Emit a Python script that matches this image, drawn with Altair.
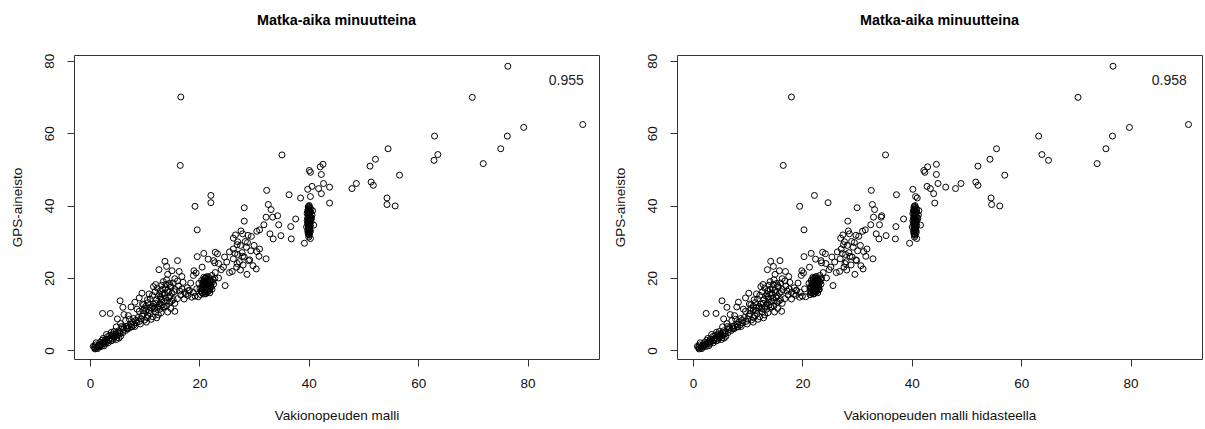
import altair as alt
import pandas as pd

# Each trip: (constant-speed model, model with deceleration, GPS data), minutes.

# long trips, x above 45
pitkat = [
    (47.9, 48.0, 44.7), (48.7, 49.0, 46.1), (51.2, 52.1, 50.9), (52.2, 54.3, 52.8),
    (54.5, 55.5, 55.7), (56.6, 57.0, 48.4), (51.4, 51.7, 46.5), (51.8, 52.1, 45.6),
    (54.3, 54.5, 42.1), (54.3, 54.6, 40.3), (55.8, 56.1, 39.9), (63.0, 63.2, 59.2),
    (62.9, 65.0, 52.5), (63.6, 63.8, 54.1), (69.9, 70.4, 69.9), (76.4, 76.8, 78.5),
    (71.9, 73.9, 51.6), (75.1, 75.5, 55.7), (76.3, 76.7, 59.2), (79.3, 79.8, 61.6),
    (90.1, 90.6, 62.4),
]

# scattered trips between 15 and 45 minutes
keski = [
    (16.6, 18.0, 70.0), (16.5, 16.5, 51.1), (35.1, 35.2, 54.0), (19.2, 19.5, 39.8),
    (22.1, 22.2, 42.8), (22.1, 24.7, 40.8), (19.6, 20.3, 33.3), (28.2, 30.0, 39.4),
    (28.2, 28.3, 35.7), (32.3, 32.6, 44.2), (32.6, 32.8, 40.3), (33.1, 33.2, 38.9),
    (34.3, 34.5, 37.2), (32.2, 33.0, 36.8), (33.4, 34.4, 36.8), (34.5, 34.1, 34.7),
    (31.8, 32.5, 34.7), (31.0, 31.5, 33.3), (30.5, 31.0, 32.9), (32.9, 33.5, 32.2),
    (33.5, 34.0, 30.8), (34.9, 35.3, 31.7), (36.4, 37.2, 43.0), (38.5, 41.0, 42.1),
    (37.6, 38.5, 36.3), (36.7, 37.1, 34.2), (36.8, 37.0, 30.8), (39.2, 39.6, 29.6),
    (40.1, 42.2, 49.7), (40.3, 42.4, 49.2), (42.1, 42.9, 50.7), (42.6, 44.5, 51.4),
    (42.3, 44.5, 48.6), (42.7, 44.8, 46.1), (41.8, 43.4, 44.7), (40.6, 42.8, 45.3),
    (39.8, 40.2, 44.5), (40.3, 40.7, 42.5), (43.8, 44.2, 40.7), (43.8, 46.2, 45.1),
    (42.3, 44.0, 43.3),
]

# the 40-minute column
ryhma_40 = [
    (40.1, 40.6, 40.0), (39.9, 40.4, 39.6), (40.2, 40.8, 39.2), (40.0, 40.5, 38.8),
    (39.8, 40.3, 38.5), (40.3, 40.9, 38.2), (40.1, 40.6, 37.9), (39.9, 40.4, 37.6),
    (40.2, 40.7, 37.3), (40.0, 40.5, 37.0), (40.4, 41.0, 36.8), (39.8, 40.3, 36.5),
    (40.1, 40.6, 36.2), (40.3, 40.8, 36.0), (39.9, 40.4, 35.7), (40.0, 40.5, 35.5),
    (40.2, 40.7, 35.2), (39.8, 40.3, 35.0), (40.1, 40.6, 34.8), (40.3, 40.9, 34.5),
    (39.9, 40.4, 34.2), (40.0, 40.5, 34.0), (40.2, 40.7, 33.7), (40.1, 40.6, 33.4),
    (39.8, 40.3, 33.1), (40.0, 40.5, 32.8), (40.2, 40.8, 32.5), (39.9, 40.4, 32.2),
    (40.1, 40.6, 31.8), (40.0, 40.5, 31.3), (40.3, 40.9, 30.9), (40.5, 41.1, 36.4),
    (39.7, 40.2, 35.8), (40.6, 41.2, 37.4), (40.9, 41.6, 34.6), (40.7, 41.3, 38.6),
    (40.0, 40.5, 39.8), (40.1, 40.6, 39.4), (39.9, 40.4, 39.0), (40.0, 40.5, 38.6),
    (40.2, 40.7, 38.0), (40.0, 40.5, 37.7), (40.1, 40.6, 37.1), (39.9, 40.4, 36.6),
    (40.2, 40.7, 36.1), (40.0, 40.5, 35.9), (40.1, 40.6, 35.3), (39.9, 40.4, 34.9),
    (40.2, 40.7, 34.4), (40.0, 40.5, 33.9), (40.1, 40.6, 33.5), (40.3, 40.8, 33.0),
    (39.9, 40.4, 32.6), (40.0, 40.5, 32.0), (40.4, 40.9, 35.6), (40.4, 40.9, 38.9),
    (39.7, 40.2, 37.8), (39.6, 40.1, 34.1),
]

# band between 21 and 35 minutes
valialue = [
    (26.2, 27.0, 31.0), (27.9, 28.6, 32.2), (28.4, 29.0, 30.1), (27.5, 28.2, 29.0),
    (26.2, 27.1, 28.0), (28.6, 29.3, 28.5), (29.4, 30.1, 27.5), (26.2, 26.9, 25.3),
    (25.0, 25.9, 24.4), (26.8, 27.6, 23.0), (27.5, 28.1, 22.2), (28.7, 29.6, 21.0),
    (29.8, 30.7, 23.4), (30.5, 31.2, 27.3), (32.2, 32.9, 25.3), (24.4, 25.2, 23.0),
    (24.7, 25.6, 17.9), (27.0, 27.9, 26.5), (27.8, 28.5, 27.0), (28.2, 29.1, 25.8),
    (26.5, 27.3, 26.8), (27.3, 28.0, 24.5), (28.0, 28.9, 23.6), (29.2, 29.8, 25.0),
    (27.0, 27.7, 30.0), (25.5, 26.4, 27.2), (27.9, 28.7, 26.0), (26.9, 27.8, 24.0),
    (29.0, 29.9, 24.8), (30.0, 30.6, 29.0), (31.0, 31.8, 28.0), (29.5, 30.3, 31.5),
    (23.3, 24.2, 26.7), (22.9, 23.7, 27.1), (22.6, 23.4, 24.8), (23.5, 24.3, 24.0),
    (24.0, 24.9, 22.3), (25.5, 26.2, 21.5), (24.6, 25.4, 25.8), (28.8, 29.5, 29.8),
    (28.9, 29.8, 31.8), (30.4, 31.1, 22.5), (26.0, 26.8, 21.8), (30.9, 31.6, 26.0),
    (26.9, 27.5, 29.2), (27.6, 28.4, 33.0), (26.6, 27.4, 31.9),
]

# the 21-minute cluster and its surroundings
ryhma_21 = [
    (21.6, 22.6, 20.4), (21.2, 22.3, 20.0), (21.9, 22.8, 19.8), (20.9, 22.0, 19.5),
    (21.5, 22.5, 19.2), (22.2, 23.1, 19.0), (21.0, 22.1, 18.8), (21.7, 22.7, 18.6),
    (20.6, 21.8, 18.4), (21.3, 22.4, 18.2), (22.0, 22.9, 18.0), (20.8, 22.0, 17.8),
    (21.4, 22.4, 17.6), (20.4, 21.6, 17.4), (21.1, 22.2, 17.2), (21.8, 22.7, 17.0),
    (20.7, 21.9, 16.8), (21.3, 22.3, 16.6), (20.3, 21.5, 16.4), (21.0, 22.1, 16.2),
    (20.5, 21.7, 16.0), (21.2, 22.2, 15.8), (20.8, 21.9, 15.6), (22.5, 23.3, 19.6),
    (22.4, 23.2, 18.9), (21.6, 22.6, 17.9), (20.1, 21.4, 17.1), (21.7, 22.6, 16.5),
    (22.3, 23.2, 20.7), (20.4, 21.6, 19.3), (22.6, 23.4, 18.3), (22.1, 23.0, 17.5),
    (20.2, 21.4, 15.4), (20.8, 21.9, 20.2), (22.3, 23.1, 16.9), (19.9, 21.2, 18.5),
    (22.8, 23.5, 19.9), (21.9, 22.8, 15.9),
    (21.0, 22.0, 19.9), (21.4, 22.4, 19.6), (21.8, 22.7, 19.4), (20.7, 21.8, 19.0),
    (21.2, 22.2, 18.6), (21.9, 22.8, 18.3), (20.9, 21.9, 18.1), (21.5, 22.5, 17.9),
    (21.1, 22.1, 17.5), (20.6, 21.7, 17.0), (21.4, 22.3, 16.9), (21.9, 23.0, 16.7),
    (20.9, 22.0, 16.3), (21.5, 22.5, 16.1), (21.1, 22.1, 15.6), (20.5, 21.6, 15.9),
    (22.0, 23.0, 19.3), (21.3, 22.4, 20.3), (20.6, 21.5, 17.7), (22.1, 22.9, 17.7),
    (19.6, 20.3, 25.9), (18.9, 19.8, 20.7), (19.4, 20.2, 21.4), (18.6, 19.5, 14.7),
    (17.5, 18.4, 15.5), (18.0, 18.9, 16.5), (19.5, 20.4, 17.0), (22.9, 23.8, 21.5),
    (23.5, 24.4, 20.0), (22.8, 23.5, 24.2), (21.6, 22.4, 25.2), (19.0, 19.9, 22.0),
    (20.5, 21.3, 23.0), (19.8, 20.6, 14.8), (18.9, 19.6, 16.0), (17.9, 18.8, 15.2),
    (19.2, 20.0, 15.0), (20.8, 21.6, 26.8), (17.2, 18.0, 14.2), (18.4, 19.2, 18.6),
]

# trips of 10 to 18 minutes
ryhma_14 = [
    (12.6, 13.6, 22.3), (13.7, 14.2, 24.6), (14.0, 14.7, 23.2), (16.0, 15.9, 24.8),
    (16.3, 16.9, 21.8), (16.8, 17.5, 20.4), (15.0, 15.8, 22.0), (14.2, 15.0, 21.0),
    (14.0, 14.8, 19.5), (13.4, 14.1, 19.0), (14.5, 15.3, 18.5), (13.1, 13.9, 18.0),
    (14.8, 15.6, 17.5), (13.7, 14.5, 17.0), (12.9, 13.7, 16.5), (14.3, 15.1, 16.0),
    (13.2, 14.0, 15.5), (12.5, 13.3, 15.0), (13.8, 14.6, 14.5), (12.2, 13.0, 14.0),
    (13.5, 14.3, 13.5), (12.8, 13.6, 13.0), (13.1, 13.9, 12.5), (12.4, 13.2, 12.0),
    (11.8, 12.6, 11.5), (12.9, 13.7, 14.8), (14.1, 14.9, 13.8), (11.6, 12.4, 12.8),
    (15.0, 15.8, 15.8), (15.6, 16.4, 16.8), (16.2, 17.0, 17.8), (15.2, 16.0, 18.6),
    (16.0, 16.8, 19.2), (12.3, 13.1, 17.2), (11.9, 12.7, 16.2), (11.4, 12.2, 15.2),
    (11.0, 11.8, 14.2), (10.6, 11.4, 13.2), (10.2, 11.0, 12.2), (12.0, 12.8, 18.2),
    (15.5, 16.3, 19.8), (16.4, 17.2, 16.4), (14.6, 15.4, 15.0), (15.2, 16.0, 14.0),
    (14.6, 15.4, 13.3), (14.0, 14.8, 12.3), (11.6, 12.4, 17.6), (17.0, 17.7, 18.8),
    (17.3, 18.0, 16.0), (16.8, 17.6, 17.0), (17.8, 18.5, 17.3), (18.2, 18.9, 16.6),
    (16.6, 17.4, 15.3), (16.0, 16.8, 14.3), (15.5, 16.3, 13.0), (9.8, 10.6, 12.6),
    (10.2, 11.0, 11.0), (10.8, 11.6, 15.6),
    (13.0, 13.8, 14.2), (13.6, 14.4, 15.8), (14.2, 15.0, 16.6), (12.7, 13.5, 15.6),
    (13.3, 14.1, 16.9), (14.7, 15.5, 17.9), (13.9, 14.7, 18.2), (12.6, 13.4, 12.4),
    (13.4, 14.2, 12.0), (14.4, 15.2, 14.6), (15.4, 16.2, 16.2), (12.0, 12.8, 13.0),
    (11.3, 12.1, 11.8), (14.9, 15.7, 13.6),
]

# trips of 5 to 12 minutes
ryhma_8 = [
    (5.5, 5.3, 13.7), (6.0, 6.2, 11.9), (2.3, 2.4, 10.2), (3.7, 4.2, 10.2),
    (8.2, 8.3, 13.3), (7.5, 8.0, 12.0), (9.0, 9.6, 14.5), (9.5, 10.2, 15.8),
    (10.5, 11.2, 14.0),
    (12.5, 13.1, 9.8), (12.0, 12.6, 10.6), (11.5, 12.2, 9.3), (11.0, 11.7, 10.1),
    (10.5, 11.1, 9.0), (10.0, 10.7, 8.4), (9.5, 10.2, 9.5), (9.0, 9.7, 8.0),
    (8.5, 9.1, 7.6), (8.0, 8.7, 8.8), (7.5, 8.1, 7.2), (7.0, 7.6, 6.8),
    (6.5, 7.1, 8.2), (6.0, 6.6, 6.3), (9.8, 10.4, 10.2), (10.8, 11.5, 11.0),
    (11.8, 12.5, 11.8), (12.8, 13.5, 11.4), (13.6, 14.3, 12.0), (14.2, 14.9, 10.6),
    (9.2, 9.9, 7.3), (8.8, 9.4, 9.1), (7.8, 8.4, 7.9), (7.2, 7.8, 8.6),
    (6.8, 7.4, 6.0), (11.2, 11.9, 8.6), (10.3, 11.0, 7.8), (12.2, 12.9, 9.0),
    (8.2, 8.8, 6.6), (13.0, 13.7, 10.4), (14.8, 15.5, 11.6), (15.5, 16.2, 10.8),
    (9.0, 9.6, 10.8), (11.5, 12.1, 12.2), (10.0, 10.6, 11.6), (7.0, 7.6, 9.6),
    (6.2, 6.8, 9.9), (5.0, 5.6, 8.7), (5.6, 6.2, 7.4), (4.8, 5.4, 6.5),
    (8.6, 9.2, 11.4), (9.6, 10.3, 12.8),
    (8.0, 8.6, 7.0), (8.4, 9.0, 8.3), (9.3, 10.0, 8.7), (7.6, 8.2, 6.5),
    (10.6, 11.3, 9.6), (11.0, 11.6, 11.8), (6.6, 7.2, 6.6), (9.7, 10.4, 11.0),
]

# short trips under 8 minutes
lyhyet = [
    (0.8, 1.0, 0.9), (1.2, 1.4, 0.7), (1.5, 1.7, 1.2), (2.0, 2.3, 1.6),
    (1.0, 1.2, 1.5), (2.5, 2.8, 2.0), (3.0, 3.3, 2.4), (2.2, 2.5, 2.8),
    (3.5, 3.9, 3.0), (4.0, 4.4, 3.3), (3.2, 3.6, 3.8), (4.5, 4.9, 3.7),
    (5.0, 5.4, 4.1), (4.2, 4.6, 4.5), (5.5, 5.9, 4.6), (6.0, 6.4, 4.9),
    (5.2, 5.6, 5.4), (4.8, 5.2, 3.0), (3.8, 4.2, 2.6), (2.8, 3.1, 1.8),
    (1.8, 2.1, 2.2), (6.2, 6.7, 5.8), (6.8, 7.3, 6.2), (5.8, 6.3, 6.6),
    (3.0, 3.4, 4.4), (4.4, 4.8, 5.2), (2.4, 2.7, 3.3), (1.4, 1.6, 0.5),
    (0.6, 0.8, 1.1), (3.6, 4.0, 4.1), (5.6, 6.0, 3.9), (7.0, 7.5, 6.0),
    (6.5, 7.0, 5.5), (1.7, 1.9, 1.0), (2.6, 2.9, 1.3), (1.1, 1.3, 2.1),
    (2.9, 3.2, 3.1), (4.1, 4.5, 2.8), (3.3, 3.7, 2.1), (4.7, 5.1, 4.6),
    (0.9, 1.1, 0.4), (2.1, 2.4, 1.1), (5.3, 5.7, 3.4), (3.9, 4.3, 5.0),
    (7.6, 8.1, 6.5),
    (1.0, 1.2, 0.6), (1.3, 1.5, 1.0), (1.6, 1.8, 1.5), (1.9, 2.1, 1.3),
    (2.3, 2.6, 2.2), (2.7, 3.0, 2.6), (3.4, 3.8, 2.7), (3.7, 4.1, 3.5),
    (4.3, 4.7, 3.9), (4.6, 5.0, 4.3), (5.1, 5.5, 4.8), (5.4, 5.8, 5.0),
    (4.0, 4.4, 4.0), (4.9, 5.3, 3.5),
]

korrelaatiot = ["0.955", "0.958"]
tekstin_paikka = (87.1, 74.5)
akselin_arvot = [0, 20, 40, 60, 80]

rivit = pitkat + keski + ryhma_40 + valialue + ryhma_21 + ryhma_14 + ryhma_8 + lyhyet
df = pd.DataFrame(rivit, columns=["malli", "hidaste", "gps"])

FONT = "Liberation Sans"
X_DOMAIN = [-2.93, 93.07]
Y_DOMAIN = [-2.38, 81.6]
W, H = 525, 304


def panel(xfield, xtitle, r_text):
    xscale = alt.Scale(domain=X_DOMAIN, nice=False, zero=False)
    yscale = alt.Scale(domain=Y_DOMAIN, nice=False, zero=False)
    xaxis = alt.Axis(
        values=akselin_arvot, grid=False, domain=False, tickSize=7,
        tickColor="#333", labelFont=FONT, labelFontSize=13.5, labelColor="#111",
        labelPadding=10, title=xtitle, titleFont=FONT, titleFontSize=13.5,
        titleFontWeight="normal", titleColor="#111", titleY=60,
        titleBaseline="alphabetic",
    )
    yaxis = alt.Axis(
        values=akselin_arvot, grid=False, domain=False, tickSize=7,
        tickColor="#333", labelFont=FONT, labelFontSize=13.5, labelColor="#111",
        labelAngle=270, labelAlign="center", labelBaseline="middle",
        labelPadding=18, title="GPS-aineisto", titleFont=FONT,
        titleFontSize=13.5, titleFontWeight="normal", titleColor="#111",
        titleAngle=270, titleX=-57, titleY=H / 2, titleAlign="center",
        titleBaseline="middle",
    )
    pts = alt.Chart(df).mark_point(
        shape="circle", filled=False, color="black", size=36,
        strokeWidth=1, opacity=1,
    ).encode(
        x=alt.X(f"{xfield}:Q", scale=xscale, axis=xaxis),
        y=alt.Y("gps:Q", scale=yscale, axis=yaxis),
    )
    lab = pd.DataFrame({xfield: [tekstin_paikka[0]], "gps": [tekstin_paikka[1]], "r": [r_text]})
    txt = alt.Chart(lab).mark_text(
        font=FONT, fontSize=14, color="#222",
    ).encode(
        x=alt.X(f"{xfield}:Q", scale=xscale, axis=xaxis),
        y=alt.Y("gps:Q", scale=yscale, axis=yaxis),
        text="r:N",
    )
    return alt.layer(pts, txt).properties(
        width=W, height=H,
        title=alt.TitleParams(
            "Matka-aika minuutteina", font=FONT, fontSize=14.4,
            fontWeight="bold", color="#000", anchor="middle", frame="group",
            offset=25,
        ),
    )


chart = alt.hconcat(
    panel("malli", "Vakionopeuden malli", korrelaatiot[0]),
    panel("hidaste", "Vakionopeuden malli hidasteella", korrelaatiot[1]),
    spacing=78, bounds="flush",
).properties(
    padding={"left": 9, "top": 12, "right": 0, "bottom": 0},
    background="white",
).configure_view(stroke="#333", strokeWidth=1)

chart.save("out.html", embed_options={"renderer": "svg", "actions": False})
